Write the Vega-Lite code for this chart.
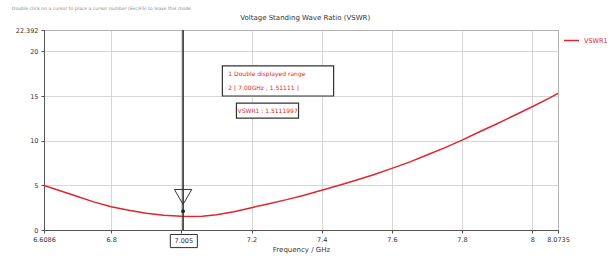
{
  "$schema": "https://vega.github.io/schema/vega-lite/v6.json",
  "width": 514,
  "height": 200,
  "autosize": {"type": "none"},
  "padding": {"left": 44, "top": 30, "right": 52, "bottom": 28},
  "background": "white",
  "data": {"values": [{"id": 1}]},
  "config": {
    "font": "DejaVu Sans",
    "view": {"stroke": "#555555", "strokeWidth": 1},
    "axis": {"labelFontSize": 6.5, "labelColor": "#333333", "titleFontSize": 7, "titleFontWeight": "normal", "titleColor": "#333333", "gridColor": "#cccccc", "gridWidth": 0.8, "domainColor": "#555555", "tickColor": "#555555", "tickSize": 3, "labelOverlap": false, "labelFlush": false, "labelPadding": 3}
  },
  "datasets": {
    "vswr": [
      {"f": 6.6086, "v": 5.0, "series": "VSWR1"},
      {"f": 6.65, "v": 4.45, "series": "VSWR1"},
      {"f": 6.7, "v": 3.8, "series": "VSWR1"},
      {"f": 6.75, "v": 3.15, "series": "VSWR1"},
      {"f": 6.8, "v": 2.6, "series": "VSWR1"},
      {"f": 6.85, "v": 2.2, "series": "VSWR1"},
      {"f": 6.9, "v": 1.88, "series": "VSWR1"},
      {"f": 6.95, "v": 1.66, "series": "VSWR1"},
      {"f": 7.0, "v": 1.54, "series": "VSWR1"},
      {"f": 7.03, "v": 1.51, "series": "VSWR1"},
      {"f": 7.06, "v": 1.55, "series": "VSWR1"},
      {"f": 7.1, "v": 1.7, "series": "VSWR1"},
      {"f": 7.15, "v": 2.05, "series": "VSWR1"},
      {"f": 7.2, "v": 2.5, "series": "VSWR1"},
      {"f": 7.25, "v": 2.95, "series": "VSWR1"},
      {"f": 7.3, "v": 3.4, "series": "VSWR1"},
      {"f": 7.35, "v": 3.9, "series": "VSWR1"},
      {"f": 7.4, "v": 4.44, "series": "VSWR1"},
      {"f": 7.45, "v": 5.0, "series": "VSWR1"},
      {"f": 7.5, "v": 5.6, "series": "VSWR1"},
      {"f": 7.55, "v": 6.22, "series": "VSWR1"},
      {"f": 7.6, "v": 6.9, "series": "VSWR1"},
      {"f": 7.65, "v": 7.6, "series": "VSWR1"},
      {"f": 7.7, "v": 8.4, "series": "VSWR1"},
      {"f": 7.75, "v": 9.2, "series": "VSWR1"},
      {"f": 7.8, "v": 10.06, "series": "VSWR1"},
      {"f": 7.85, "v": 11.0, "series": "VSWR1"},
      {"f": 7.9, "v": 11.9, "series": "VSWR1"},
      {"f": 7.95, "v": 12.85, "series": "VSWR1"},
      {"f": 8.0, "v": 13.8, "series": "VSWR1"},
      {"f": 8.05, "v": 14.8, "series": "VSWR1"},
      {"f": 8.0735, "v": 15.3, "series": "VSWR1"}
    ]
  },
  "layer": [
    {
      "data": {"name": "vswr"},
      "mark": {"type": "line", "strokeWidth": 1.5, "clip": true},
      "encoding": {
        "x": {"field": "f", "type": "quantitative", "title": "Frequency / GHz",
              "scale": {"domain": [6.6086, 8.0735], "nice": false, "zero": false},
              "axis": {"values": [6.6086, 6.8, 7.0, 7.2, 7.4, 7.6, 7.8, 8, 8.0735], "tickCount": 20, "labelExpr": "datum.value == 7 ? '' : datum.value == 6.6086 ? '6.6086' : datum.value == 8.0735 ? '8.0735' : format(datum.value, '.1~f')", "titlePadding": 3}},
        "y": {"field": "v", "type": "quantitative", "title": null,
              "scale": {"domain": [0, 22.392], "nice": false},
              "axis": {"values": [0, 5, 10, 15, 20, 22.392], "tickCount": 20, "labelExpr": "datum.value == 22.392 ? '22.392' : format(datum.value, 'd')"}},
        "color": {"field": "series", "type": "nominal", "title": null,
                  "scale": {"range": ["#e0252f"]},
                  "legend": {"orient": "none", "legendX": 519, "legendY": 2, "symbolType": "stroke", "symbolSize": 225, "symbolStrokeWidth": 1.5, "labelFontSize": 6.5, "labelColor": "#e0252f", "padding": 0}}
      }
    },
    {
      "mark": {"type": "rule", "color": "#333333", "strokeWidth": 1.6},
      "encoding": {"x": {"datum": 7.005, "type": "quantitative"}}
    },
    {
      "mark": {"type": "point", "shape": "triangle-down", "size": 300, "filled": false, "stroke": "#333333", "strokeWidth": 1, "opacity": 1},
      "encoding": {"x": {"datum": 7.005, "type": "quantitative"}, "y": {"datum": 3.7, "type": "quantitative"}}
    },
    {
      "mark": {"type": "point", "shape": "circle", "size": 14, "filled": true, "color": "#222222", "opacity": 1},
      "encoding": {"x": {"datum": 7.005, "type": "quantitative"}, "y": {"datum": 2.1, "type": "quantitative"}}
    },
    {
      "mark": {"type": "rect", "fill": "white", "stroke": "#333333", "strokeWidth": 1.2},
      "encoding": {"x": {"datum": 7.117, "type": "quantitative"}, "x2": {"datum": 7.434}, "y": {"datum": 18.37, "type": "quantitative"}, "y2": {"datum": 15.0}}
    },
    {
      "mark": {"type": "rect", "fill": "white", "stroke": "#333333", "strokeWidth": 1.2},
      "encoding": {"x": {"datum": 7.157, "type": "quantitative"}, "x2": {"datum": 7.334}, "y": {"datum": 14.21, "type": "quantitative"}, "y2": {"datum": 12.53}}
    },
    {
      "mark": {"type": "rect", "fill": "white", "stroke": "#333333", "strokeWidth": 1, "clip": false},
      "encoding": {"x": {"datum": 6.9686, "type": "quantitative"}, "x2": {"datum": 7.0457}, "y": {"datum": -0.5, "type": "quantitative"}, "y2": {"datum": -1.97}}
    },
    {
      "mark": {"type": "text", "text": "7.005", "fontSize": 6.5, "color": "#333333", "align": "center", "baseline": "middle"},
      "encoding": {"x": {"datum": 7.007, "type": "quantitative"}, "y": {"datum": -1.24, "type": "quantitative"}}
    },
    {
      "mark": {"type": "text", "text": "1   Double displayed range", "fontSize": 6, "color": "#e0252f", "align": "left", "baseline": "middle"},
      "encoding": {"x": {"datum": 7.134, "type": "quantitative"}, "y": {"datum": 17.5, "type": "quantitative"}}
    },
    {
      "mark": {"type": "text", "text": "2   [ 7.00GHz , 1.51111 ]", "fontSize": 6, "color": "#e0252f", "align": "left", "baseline": "middle"},
      "encoding": {"x": {"datum": 7.134, "type": "quantitative"}, "y": {"datum": 15.9, "type": "quantitative"}}
    },
    {
      "mark": {"type": "text", "text": "VSWR1 : 1.5111997", "fontSize": 6, "color": "#e0252f", "align": "center", "baseline": "middle"},
      "encoding": {"x": {"datum": 7.246, "type": "quantitative"}, "y": {"datum": 13.35, "type": "quantitative"}}
    },
    {
      "mark": {"type": "text", "text": "Voltage Standing Wave Ratio (VSWR)", "fontSize": 7, "color": "#333333", "align": "center", "baseline": "middle"},
      "encoding": {"x": {"datum": 7.353, "type": "quantitative"}, "y": {"datum": 23.76, "type": "quantitative"}}
    },
    {
      "mark": {"type": "text", "text": "Double click on a cursor to place a cursor number (Esc/F5) to leave this mode", "fontSize": 4.6, "color": "#888888", "align": "left", "baseline": "middle"},
      "encoding": {"x": {"datum": 6.517, "type": "quantitative"}, "y": {"datum": 24.7, "type": "quantitative"}}
    }
  ]
}
